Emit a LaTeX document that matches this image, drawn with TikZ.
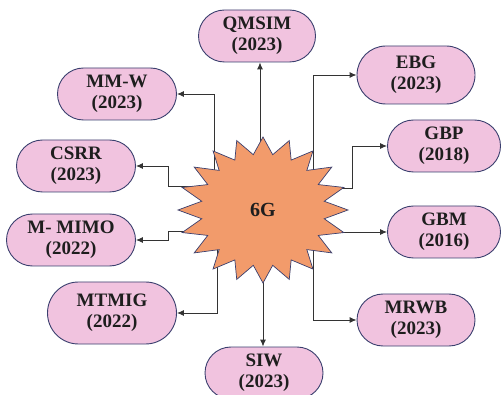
\documentclass[tikz,border=0pt]{standalone}
\usepackage{fontspec}
\setmainfont{Liberation Serif}
\usetikzlibrary{shapes.misc,arrows.meta}
\definecolor{pillfill}{HTML}{F1C3DF}
\definecolor{pilldraw}{HTML}{3A3F6E}
\definecolor{starfill}{HTML}{F29B6B}
\definecolor{linecol}{HTML}{333333}
\definecolor{txt}{HTML}{1E1E1E}
\begin{document}
\begin{tikzpicture}[x=1pt,y=1pt,
  pill/.style={rounded rectangle, draw=pilldraw, fill=pillfill, line width=0.9pt,
    inner sep=0pt, minimum height=52pt, align=center, text=txt,
    font=\fontsize{19}{21}\selectfont\bfseries},
  arr/.style={draw=linecol, line width=0.9pt, -{Latex[length=7pt,width=6pt]}},
  stardraw/.style={fill=starfill, draw=pilldraw, line width=0.7pt, line join=miter}
]
\useasboundingbox (0,0) rectangle (501,394);

% pills
\node[pill, minimum width=117pt] (qmsim) at (257,358) {QMSIM\\(2023)};
\node[pill, minimum width=119pt] (mmw) at (117,300) {MM-W\\(2023)};
\node[pill, minimum width=119pt] (csrr) at (76,228) {CSRR\\(2023)};
\node[pill, minimum width=129pt] (mmimo) at (71,154) {M- MIMO\\(2022)};
\node[pill, minimum width=129pt, minimum height=62pt] (mtmig) at (112,81) {MTMIG\\(2022)};
\node[pill, minimum width=118pt] (siw) at (264,21) {SIW\\(2023)};
\node[pill, minimum width=118pt] (mrwb) at (416,74) {MRWB\\(2023)};
\node[pill, minimum width=113pt] (gbm) at (444,162) {GBM\\(2016)};
\node[pill, minimum width=113pt] (gbp) at (444,248) {GBP\\(2018)};
\node[pill, minimum width=118pt, minimum height=58pt] (ebg) at (416,319) {EBG\\(2023)};

% centre anchor
\coordinate (g) at (263,184);

% connectors (drawn below the star)
\draw[arr] ([xshift=-3pt]g) -- ([xshift=-3pt]g |- qmsim.south);
\draw[arr] ([xshift=-49pt]g) |- (mmw.east);
\draw[arr] ([yshift=24pt]g) -- ++(-95,0) |- (csrr.east);
\draw[arr] ([yshift=-21pt]g) -- ++(-95,0) |- (mmimo.east);
\draw[arr] ([xshift=-46pt]g) |- (mtmig.east);
\draw[arr] (g) -- (g |- siw.north);
\draw[arr] ([xshift=50pt]g) |- (mrwb.west);
\draw[arr] ([yshift=-22pt]g) -- (gbm.west);
\draw[arr] ([yshift=22pt]g) -- ++(89,0) |- (gbp.west);
\draw[arr] ([xshift=50pt]g) |- (ebg.west);

% star
\begin{scope}[shift={(263,184)}]
\draw[stardraw] (90:85pt and 73pt)
  \foreach \i [evaluate=\i as \rx using {mod(\i,2)==0 ? 85 : 62},
               evaluate=\i as \ry using {mod(\i,2)==0 ? 73 : 56},
               evaluate=\i as \ang using {90+9*\i}] in {1,...,39}
  { -- (\ang:\rx pt and \ry pt) } -- cycle;
\end{scope}
\node[text=txt, font=\fontsize{20}{22}\selectfont\bfseries] (sixg) at (g) {6G};
\end{tikzpicture}
\end{document}
